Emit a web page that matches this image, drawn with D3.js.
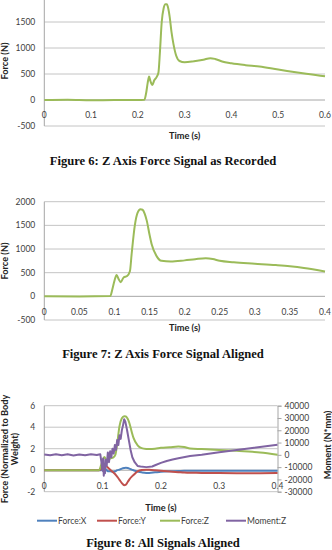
<!DOCTYPE html>
<html>
<head>
<style>
  body { margin: 0; background: #fff; }
  svg { display: block; }
  .tick-label { font-family: Lato, "Open Sans", sans-serif; font-size: 8.5px; fill: #404040; }
  .axis-title { font-family: Lato, "Open Sans", sans-serif; font-size: 9.2px; font-weight: bold; fill: #222; }
  .caption { font-family: "Liberation Serif", "Times New Roman", serif; font-size: 12.6px; font-weight: bold; fill: #111; }
  .grid { stroke: #c4c4c4; stroke-width: 1px; }
  .axis-line { stroke: #a6a6a6; stroke-width: 1px; }
  .series { fill: none; stroke-width: 2px; stroke-linejoin: round; }
</style>
</head>
<body>
<svg id="chart" width="332" height="550"></svg>
<script src="https://cdnjs.cloudflare.com/ajax/libs/d3/7.8.5/d3.min.js"></script>
<script>
// Figure 6: Z force as recorded (top of this chart is cropped, 2000 label not shown)
const fig6Time  = [0, 0.05, 0.1, 0.15, 0.2, 0.214, 0.218, 0.221, 0.224, 0.227, 0.231, 0.235, 0.24, 0.244, 0.247, 0.251, 0.255, 0.259, 0.262, 0.265, 0.268, 0.272, 0.276, 0.282, 0.289, 0.3, 0.32, 0.34, 0.355, 0.365, 0.38, 0.4, 0.43, 0.46, 0.5, 0.53, 0.56, 0.58, 0.6];
const fig6Force = [0, 5, -5, 0, 0, 5, 150, 330, 450, 360, 290, 380, 440, 530, 900, 1500, 1760, 1840, 1840, 1760, 1600, 1300, 1080, 850, 750, 725, 745, 775, 805, 790, 740, 705, 670, 645, 585, 545, 505, 480, 455];
const fig6XTicks = [0, 0.1, 0.2, 0.3, 0.4, 0.5, 0.6];
const fig6YTicks = [-500, 0, 500, 1000, 1500];

// Figure 7: Z force aligned
const fig7Time  = [0, 0.05, 0.094, 0.097, 0.1, 0.103, 0.106, 0.109, 0.113, 0.118, 0.122, 0.1245, 0.129, 0.133, 0.137, 0.14, 0.143, 0.146, 0.15, 0.153, 0.16, 0.167, 0.18, 0.2, 0.215, 0.23, 0.24, 0.25, 0.27, 0.3, 0.33, 0.35, 0.37, 0.4];
const fig7Force = [0, -5, 5, 150, 330, 450, 360, 300, 400, 430, 530, 900, 1500, 1770, 1840, 1830, 1750, 1600, 1300, 1100, 850, 750, 735, 760, 785, 805, 790, 750, 720, 690, 660, 635, 600, 525];
const fig7XTicks = [0, 0.05, 0.1, 0.15, 0.2, 0.25, 0.3, 0.35, 0.4];
const fig7YTicks = [-500, 0, 500, 1000, 1500, 2000];

// Figure 8: all signals aligned
const fig8Time   = [0, 0.05, 0.094, 0.097, 0.1, 0.103, 0.106, 0.109, 0.113, 0.118, 0.122, 0.125, 0.129, 0.133, 0.137, 0.14, 0.143, 0.146, 0.15, 0.153, 0.16, 0.167, 0.175, 0.18, 0.19, 0.2, 0.215, 0.23, 0.24, 0.25, 0.27, 0.3, 0.33, 0.35, 0.37, 0.4];
const fig8ForceX = [0, 0, 0, 0, 0.2, -0.3, 0.1, -0.1, -0.1, -0.15, -0.1, 0, 0.05, 0.15, 0.2, 0.22, 0.2, 0.15, 0.05, 0, -0.12, -0.2, -0.25, -0.25, -0.2, -0.15, -0.1, -0.07, -0.06, -0.05, -0.05, -0.05, -0.05, -0.05, -0.05, -0.05];
const fig8ForceY = [0, 0, 0, 0.1, 0.65, 0.55, 0.4, 0.25, 0.05, -0.2, -0.4, -0.6, -0.9, -1.2, -1.4, -1.35, -1.1, -0.85, -0.6, -0.45, -0.1, 0.02, 0.05, 0.04, 0, -0.05, -0.12, -0.18, -0.22, -0.24, -0.25, -0.27, -0.28, -0.28, -0.28, -0.27];
const fig8ForceZ = [0, 0, 0, 0.4, 0.9, 1.23, 1.0, 0.82, 1.1, 1.17, 1.45, 2.46, 4.1, 4.84, 5.03, 5.0, 4.78, 4.37, 3.55, 3.0, 2.32, 2.05, 1.98, 1.97, 2.0, 2.08, 2.13, 2.2, 2.16, 2.02, 1.97, 1.89, 1.8, 1.73, 1.64, 1.43];
const fig8MomentTime = [0, 0.01, 0.02, 0.03, 0.04, 0.05, 0.06, 0.07, 0.08, 0.09, 0.096, 0.098, 0.1, 0.101, 0.102, 0.103, 0.104, 0.105, 0.107, 0.109, 0.111, 0.113, 0.115, 0.117, 0.119, 0.121, 0.123, 0.125, 0.127, 0.129, 0.131, 0.133, 0.135, 0.137, 0.139, 0.142, 0.145, 0.148, 0.151, 0.155, 0.16, 0.165, 0.175, 0.185, 0.19, 0.2, 0.21, 0.22, 0.23, 0.25, 0.27, 0.3, 0.33, 0.36, 0.4];
const fig8MomentZ = [300, -400, 500, -300, 400, -500, 300, -400, 500, -200, 500, -6000, -13000, -3000, -17000, -8000, -15000, -4000, -9000, 2000, -6000, 3000, -2000, 5000, 1000, 8000, 4000, 12000, 8000, 16000, 13000, 20000, 24000, 29000, 27000, 20000, 12000, 4000, -2000, -6000, -9000, -9500, -10000, -9500, -8500, -6500, -5000, -3800, -2800, -1000, 0, 2200, 4000, 5800, 8200];
const fig8XTicks = [0, 0.1, 0.2, 0.3, 0.4];
const fig8YTicks = [-2, 0, 2, 4, 6];
const fig8Y2Ticks = [-30000, -20000, -10000, 0, 10000, 20000, 30000, 40000];
const legendNames = ["Force:X", "Force:Y", "Force:Z", "Moment:Z"];
const seriesColors = ["#4f81bd", "#c0504d", "#9bbb59", "#8064a2"];

const svg = d3.select("#chart");
const fmt = d => String(d);

// draws gridlines, left axis, zero line and tick labels for one panel
function drawFrame(x, y, xTicks, yTicks) {
  const g = svg.append("g");
  const [x0, x1] = x.range();
  const [yb, yt] = y.range();
  g.selectAll(".grid").data(y.ticks(5).filter(v => v !== 0)).enter()
    .append("line").attr("class", "grid")
    .attr("x1", x0).attr("x2", x1)
    .attr("y1", d => y(d)).attr("y2", d => y(d));
  g.append("line").attr("class", "axis-line")
    .attr("x1", x0).attr("x2", x0).attr("y1", yt).attr("y2", yb);
  g.append("line").attr("class", "axis-line")
    .attr("x1", x0).attr("x2", x1).attr("y1", y(0)).attr("y2", y(0));
  g.selectAll(".ylab").data(yTicks).enter()
    .append("text").attr("class", "tick-label")
    .attr("x", x0 - 9).attr("y", d => y(d)).attr("dy", "0.35em")
    .attr("text-anchor", "end").text(fmt);
  g.selectAll(".xlab").data(xTicks).enter()
    .append("text").attr("class", "tick-label")
    .attr("x", d => x(d)).attr("y", y(0) + 15.5).attr("dy", "0.35em")
    .attr("text-anchor", "middle").text(fmt);
  return g;
}

function drawLine(xs, ys, x, y, color, curve) {
  const pts = xs.map((t, i) => [t, ys[i]]);
  svg.append("path").attr("class", "series")
    .attr("stroke", color)
    .attr("d", d3.line().x(d => x(d[0])).y(d => y(d[1])).curve(curve)(pts));
}

function rotatedText(x, y, lines, lineGap) {
  const t = svg.append("text").attr("class", "axis-title")
    .attr("transform", `translate(${x},${y}) rotate(-90)`)
    .attr("text-anchor", "middle");
  lines.forEach((s, i) => t.append("tspan").attr("x", 0).attr("y", i * lineGap).text(s));
}

// ---- Figure 6 ----
const x6 = d3.scaleLinear().domain([0, 0.6]).range([44.3, 325]);
const y6 = d3.scaleLinear().domain([-500, 2000]).range([126, -4]);
drawFrame(x6, y6, fig6XTicks, fig6YTicks);
drawLine(fig6Time, fig6Force, x6, y6, seriesColors[2], d3.curveMonotoneX);
rotatedText(8, 61, ["Force (N)"], 0);
svg.append("text").attr("class", "axis-title").attr("x", 184.6).attr("y", 138.5)
  .attr("text-anchor", "middle").text("Time (s)");
svg.append("text").attr("class", "caption").attr("x", 163).attr("y", 164.5)
  .attr("text-anchor", "middle").text("Figure 6: Z Axis Force Signal as Recorded");

// ---- Figure 7 ----
const x7 = d3.scaleLinear().domain([0, 0.4]).range([44.3, 325]);
const y7 = d3.scaleLinear().domain([-500, 2000]).range([320, 201.7]);
drawFrame(x7, y7, fig7XTicks, fig7YTicks);
drawLine(fig7Time, fig7Force, x7, y7, seriesColors[2], d3.curveMonotoneX);
rotatedText(8, 261, ["Force (N)"], 0);
svg.append("text").attr("class", "axis-title").attr("x", 184.6).attr("y", 331)
  .attr("text-anchor", "middle").text("Time (s)");
svg.append("text").attr("class", "caption").attr("x", 163).attr("y", 358)
  .attr("text-anchor", "middle").text("Figure 7:  Z Axis Force Signal Aligned");

// ---- Figure 8 ----
const x8 = d3.scaleLinear().domain([0, 0.4]).range([44.3, 277.5]);
const y8 = d3.scaleLinear().domain([-2, 6]).range([491.7, 405.7]);
const y8r = d3.scaleLinear().domain([-30000, 40000]).range([491.7, 405.7]);
drawFrame(x8, y8, fig8XTicks, fig8YTicks);

// right axis with outward ticks
svg.append("g")
  .attr("transform", "translate(277.5,0)")
  .call(d3.axisRight(y8r).tickValues(fig8Y2Ticks).tickSize(4).tickPadding(3).tickFormat(fmt))
  .call(g => {
    g.select(".domain").attr("stroke", "#a6a6a6");
    g.selectAll(".tick line").attr("stroke", "#a6a6a6");
    g.selectAll(".tick text").attr("class", "tick-label").attr("fill", null);
  })
  .attr("font-family", null).attr("font-size", null);

drawLine(fig8Time, fig8ForceX, x8, y8, seriesColors[0], d3.curveMonotoneX);
drawLine(fig8Time, fig8ForceY, x8, y8, seriesColors[1], d3.curveMonotoneX);
drawLine(fig8Time, fig8ForceZ, x8, y8, seriesColors[2], d3.curveMonotoneX);
drawLine(fig8MomentTime, fig8MomentZ, x8, y8r, seriesColors[3], d3.curveLinear);

rotatedText(8, 449, ["Force (Normalized to Body", "Weight)"], 9.5);
rotatedText(330.5, 445, ["Moment (N*mm)"], 0);
svg.append("text").attr("class", "axis-title").attr("x", 160.9).attr("y", 511)
  .attr("text-anchor", "middle").text("Time (s)");

// legend
const legendX = [37, 97, 160, 226];
const leg = svg.append("g").selectAll("g").data(legendNames).enter()
  .append("g").attr("transform", (d, i) => `translate(${legendX[i]},520.7)`);
leg.append("line").attr("x1", 0).attr("x2", 20).attr("y1", 0).attr("y2", 0)
  .attr("stroke", (d, i) => seriesColors[i]).attr("stroke-width", 2);
leg.append("text").attr("class", "tick-label").attr("x", 21).attr("dy", "0.35em").text(d => d);

svg.append("text").attr("class", "caption").attr("x", 163).attr("y", 547)
  .attr("text-anchor", "middle").text("Figure 8:  All Signals Aligned");
</script>
</body>
</html>
